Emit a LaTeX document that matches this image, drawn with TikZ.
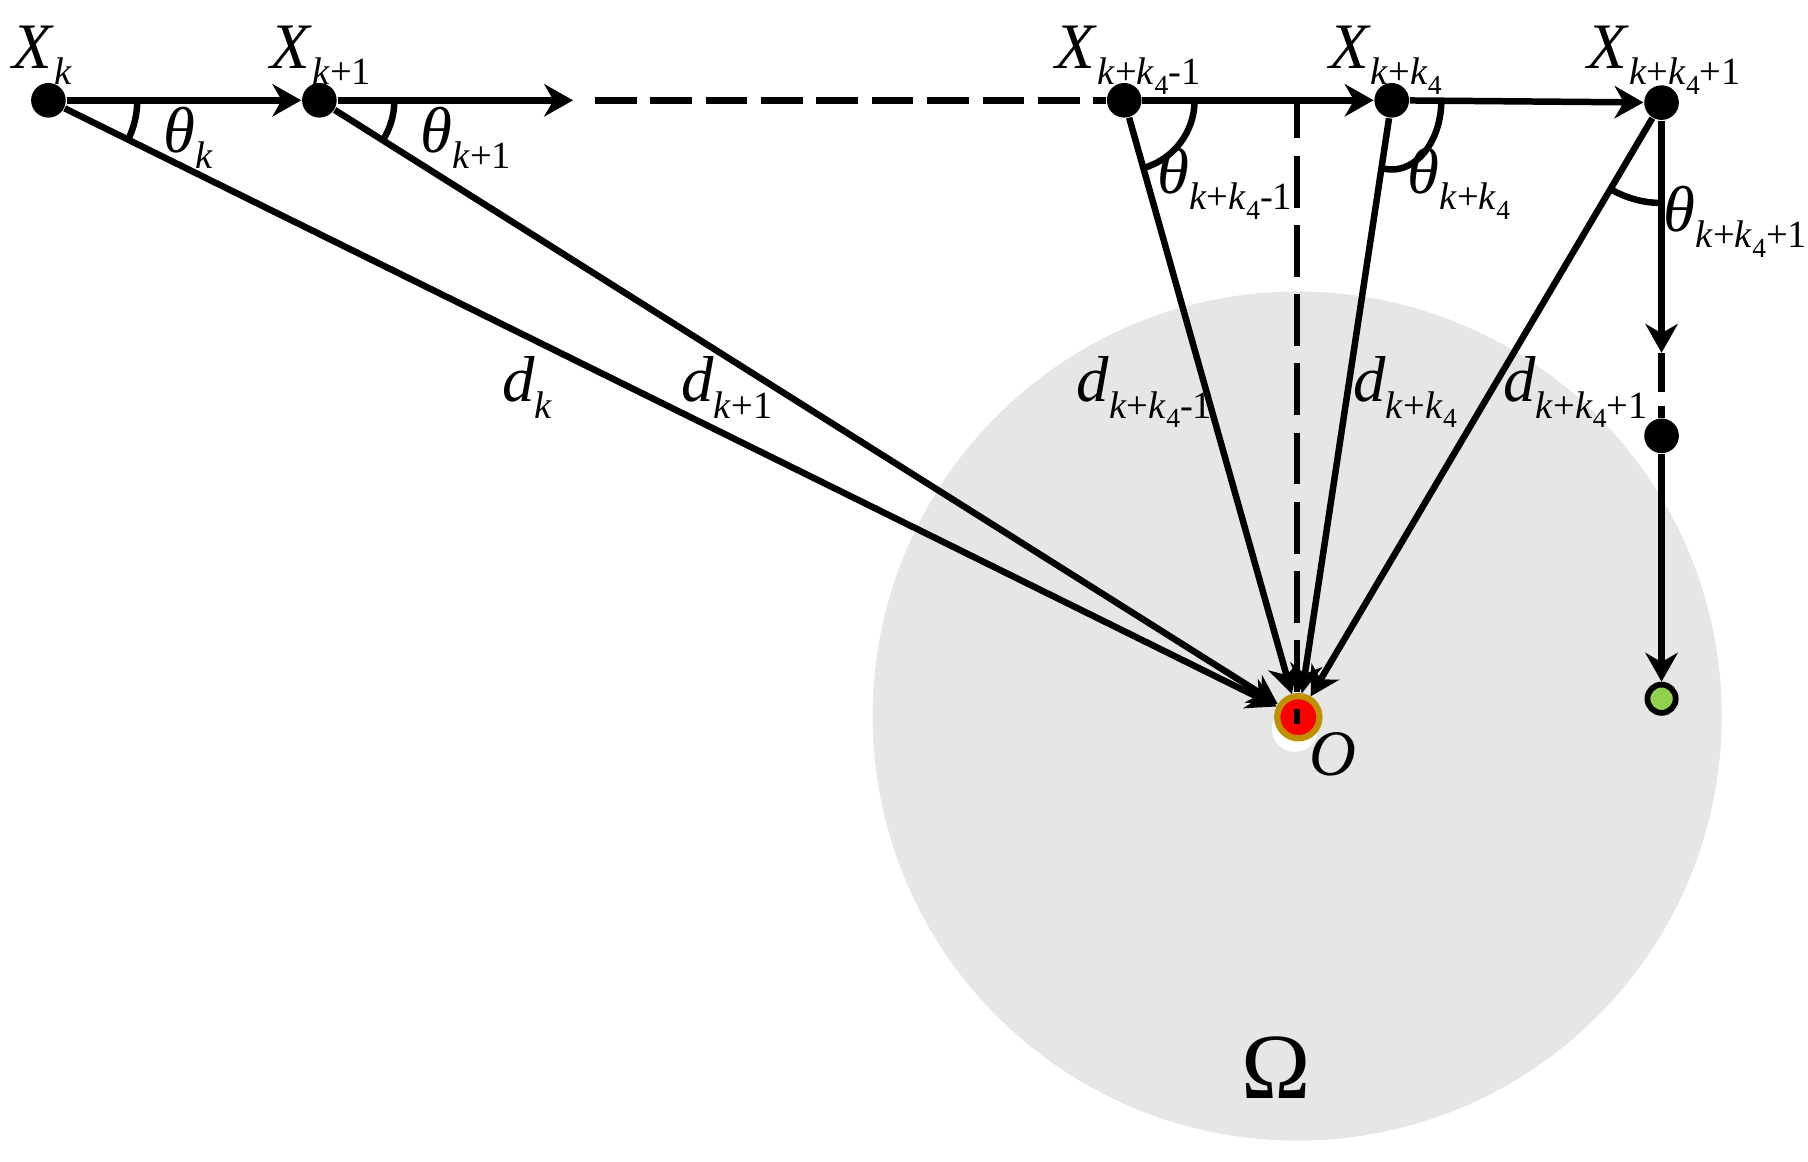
\documentclass[tikz,border=0pt]{standalone}
\usepackage{fontspec}
\setmainfont{Liberation Serif}
\newfontfamily\tms{Liberation Serif}
\usetikzlibrary{arrows.meta}
\definecolor{omg}{HTML}{E6E6E6}
\definecolor{ringc}{HTML}{BF9000}
\definecolor{grn}{HTML}{92D050}
\newcommand\sbs[1]{\raisebox{-4pt}{\fontsize{9.5}{9.5}\selectfont #1}}
\newcommand\ssbs[1]{\raisebox{-2.3pt}{\fontsize{6.8}{6.8}\selectfont #1}}
\newcommand\kf{\textit{k}+\textit{k}\ssbs{4}}
\begin{document}
\begin{tikzpicture}[x=0.01cm,y=-0.01cm,
  ln/.style={line width=1.6pt},
  arr/.style={ln,-{Stealth[length=0.25cm,width=0.28cm,inset=0.08cm]}},
  bdot/.style={circle,fill=black,inner sep=0pt,minimum size=0.3cm},
  lab/.style={anchor=base west,inner sep=0pt,font=\tms\fontsize{16}{16}\selectfont},
  hdash/.style={ln,dash pattern=on 0.36cm off 0.12cm},
  vdash/.style={ln,dash pattern=on 0.45cm off 0.15cm,dash phase=0.12cm},
]
\useasboundingbox (0,0) rectangle (1568,1007);
% region Omega
\fill[omg] (1125,621) circle[radius=3.68cm];
\fill[white] (1123,632) circle[radius=0.2cm];
% target O
\node[circle,fill=red,draw=ringc,line width=0.054cm,inner sep=0pt,minimum size=0.366cm] (O) at (1126,622) {};
% points
\node[bdot] (Xk)  at (42,87) {};
\node[bdot] (Xk1) at (277,87) {};
\node[bdot] (Xa)  at (975,87) {};
\node[bdot] (Xb)  at (1207,87) {};
\node[bdot] (Xc)  at (1441,89) {};
\node[bdot] (D)   at (1441,378) {};
\node[circle,fill=grn,draw=black,line width=0.05cm,inner sep=0pt,minimum size=0.245cm] (G) at (1441,606) {};
\coordinate (h1) at (497,87);
\coordinate (h2) at (516,87);
\coordinate (v1) at (1441,306);
\coordinate (v2) at (1441,340);
\coordinate (v3) at (1441,352);
\coordinate (vt) at (1125,87);
\coordinate (vb) at (1125,628);
% path along the top
\draw[arr] (Xk) -- (Xk1);
\draw[arr] (Xk1) -- (h1);
\draw[hdash] (h2) -- (Xa);
\draw[ln] (Xa) -- (vt);
\draw[arr] (vt) -- (Xb);
\draw[arr] (Xb) -- (Xc);
% path down the right
\draw[arr] (Xc) -- (v1);
\draw[ln] (v1) -- (v2);
\draw[ln] (v3) -- (D);
\draw[arr] (D) -- (G);
% rays to O
\draw[arr] (Xk) -- (O);
\draw[arr] (Xk1) -- (O);
\draw[arr] (Xa) -- (O);
\draw[arr] (Xb) -- (O);
\draw[arr] (Xc) -- (O);
\draw[vdash] (vt) -- (vb);
% angle arcs
\draw[ln] (Xk.center) ++(0:0.77cm) arc[start angle=0,end angle=-26.3,radius=0.77cm];
\draw[ln] (Xk1.center) ++(0:0.65cm) arc[start angle=0,end angle=-32.2,radius=0.65cm];
\draw[ln] (Xa.center) ++(0:0.61cm) arc[start angle=0,end angle=-74.2,radius=0.61cm];
\draw[ln] (Xb.center) ++(0.43cm,0cm) arc[start angle=0,end angle=-101.9,x radius=0.43cm,y radius=0.60cm];
\draw[ln] (Xc.center) ++(239.4:0.87cm) arc[start angle=239.4,end angle=270,radius=0.87cm];
% labels X
\node[lab] (lXk)  at (10,59.5)   {\textit{X}\sbs{\textit{k}}};
\node[lab] (lXk1) at (234,59.5)  {\textit{X}\sbs{\textit{k}+1}};
\node[lab] (lXa)  at (915,59.5)  {\textit{X}\sbs{\kf-1}};
\node[lab] (lXb)  at (1152,59.5) {\textit{X}\sbs{\kf}};
\node[lab] (lXc)  at (1376,59.5) {\textit{X}\sbs{\kf+1}};
% labels theta
\node[lab] (tk)  at (141,132)  {\textit{θ}\sbs{\textit{k}}};
\node[lab] (tk1) at (364,132)  {\textit{θ}\sbs{\textit{k}+1}};
\node[lab] (ta)  at (1003,168) {\textit{θ}\sbs{\kf-1}};
\node[lab] (tb)  at (1220,168) {\textit{θ}\sbs{\kf}};
\node[lab] (tc)  at (1442,201) {\textit{θ}\sbs{\kf+1}};
% labels d
\node[lab] (dk)  at (435,348.5)  {\textit{d}\sbs{\textit{k}}};
\node[lab] (dk1) at (590,348.5)  {\textit{d}\sbs{\textit{k}+1}};
\node[lab] (da)  at (933,348.5)  {\textit{d}\sbs{\kf-1}};
\node[lab] (db)  at (1173,348.5) {\textit{d}\sbs{\kf}};
\node[lab] (dc)  at (1303,348.5) {\textit{d}\sbs{\kf+1}};
% other labels
\node[lab] (lO) at (1135,673) {\textit{O}};
\node[lab,font=\tms\fontsize{23}{23}\selectfont] (lOm) at (1076,953) {Ω};
\end{tikzpicture}
\end{document}
